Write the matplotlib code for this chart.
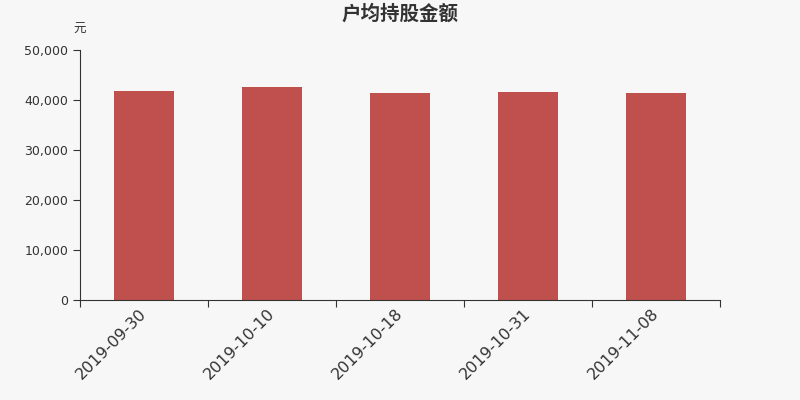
import matplotlib.pyplot as plt
from matplotlib.ticker import FuncFormatter, FixedLocator

plt.rcParams['font.family'] = ['DejaVu Sans', 'Noto Sans CJK SC']

# 数据
dates = ["2019-09-30", "2019-10-10", "2019-10-18", "2019-10-31", "2019-11-08"]
values = [41800, 42600, 41400, 41700, 41350]

bg = "#f7f7f7"
fig = plt.figure(figsize=(8, 4), dpi=100, facecolor=bg)
ax = fig.add_axes([0.1, 0.25, 0.8, 0.625], facecolor=bg)

x = list(range(len(dates)))
ax.bar(x, values, width=0.47, color="#c0504d", zorder=2)

ax.set_xlim(-0.5, len(dates) - 0.5)
ax.set_ylim(0, 50000)
ax.set_yticks(range(0, 50001, 10000))
ax.yaxis.set_major_formatter(FuncFormatter(lambda v, p: "{:,.0f}".format(v)))

# x轴刻度在类别边界，标签在中间
ax.xaxis.set_major_locator(FixedLocator([i - 0.5 for i in range(len(dates) + 1)]))
ax.xaxis.set_major_formatter(FuncFormatter(lambda v, p: ""))
ax.set_xticks(x, minor=True)
ax.set_xticklabels(dates, minor=True, rotation=45, ha="right", va="center",
                   rotation_mode="anchor", fontsize=11.5, color="#333333")
ax.tick_params(axis="x", which="minor", length=0, pad=8)
ax.tick_params(axis="x", which="major", length=5, color="#333333")
ax.tick_params(axis="y", length=5, labelsize=9, colors="#333333")

for s in ["top", "right"]:
    ax.spines[s].set_visible(False)
ax.spines["left"].set_color("#333333")
ax.spines["bottom"].set_color("#333333")

fig.text(0.5, 0.965, "户均持股金额", ha="center", va="center", fontsize=14,
         fontweight="bold", color="#333333", family=["Noto Sans CJK SC", "DejaVu Sans"])
fig.text(0.1, 0.9275, "元", ha="center", va="center", fontsize=9, color="#333333",
         family=["Noto Sans CJK SC", "DejaVu Sans"])

plt.savefig("out.png", dpi=100, facecolor=bg)
